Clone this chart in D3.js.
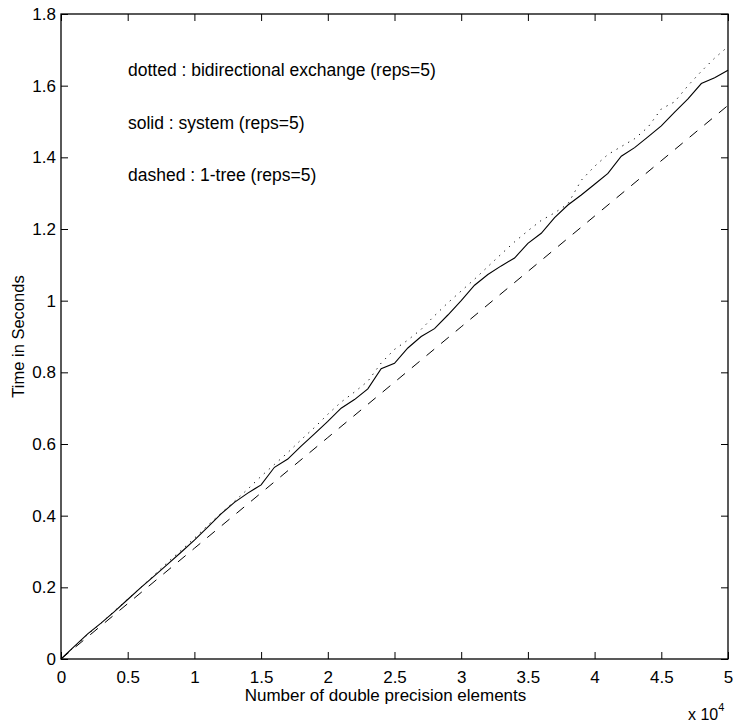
<!DOCTYPE html>
<html>
<head>
<meta charset="utf-8">
<script src="https://cdn.jsdelivr.net/npm/d3@7"></script>
<style>
  html, body { margin: 0; padding: 0; background: #fff; }
  svg { display: block; font-family: "Liberation Sans", Arial, Helvetica, sans-serif; }
</style>
</head>
<body>
<svg id="chart" width="735" height="725"></svg>
<script>
// x in units of 10^4 elements, sampled every 0.1
const xValues = [0,0.1,0.2,0.3,0.4,0.5,0.6,0.7,0.8,0.9,1.0,1.1,1.2,1.3,1.4,1.5,1.6,1.7,1.8,1.9,2.0,2.1,2.2,2.3,2.4,2.5,2.6,2.7,2.8,2.9,3.0,3.1,3.2,3.3,3.4,3.5,3.6,3.7,3.8,3.9,4.0,4.1,4.2,4.3,4.4,4.5,4.6,4.7,4.8,4.9,5.0];
// solid : system
const solidValues = [0,0.035,0.07,0.1,0.132,0.166,0.2,0.232,0.265,0.298,0.332,0.368,0.405,0.437,0.463,0.486,0.535,0.558,0.594,0.628,0.663,0.70,0.724,0.754,0.81,0.825,0.868,0.90,0.922,0.96,1.0,1.043,1.073,1.097,1.119,1.16,1.188,1.232,1.267,1.295,1.325,1.355,1.403,1.427,1.457,1.488,1.526,1.563,1.606,1.622,1.643];
// dotted : bidirectional exchange
const dottedValues = [0,0.034,0.068,0.1,0.134,0.167,0.2,0.235,0.27,0.303,0.337,0.373,0.407,0.44,0.474,0.51,0.543,0.576,0.612,0.646,0.683,0.717,0.745,0.775,0.826,0.864,0.89,0.92,0.958,0.994,1.027,1.06,1.095,1.13,1.164,1.195,1.224,1.245,1.27,1.336,1.375,1.408,1.43,1.452,1.484,1.535,1.555,1.6,1.64,1.677,1.709];
// dashed : 1-tree
const dashedX = [0,1,2,3,4,5];
const dashedValues = [0,0.309,0.618,0.927,1.236,1.545];

const xTicks = [0,0.5,1,1.5,2,2.5,3,3.5,4,4.5,5];
const yTicks = [0,0.2,0.4,0.6,0.8,1,1.2,1.4,1.6,1.8];
const legendLines = ["dotted : bidirectional exchange (reps=5)", "solid : system (reps=5)", "dashed : 1-tree (reps=5)"];

const L = 61, R = 728, T = 14, B = 659;
const svg = d3.select("#chart");
const x = d3.scaleLinear().domain([0,5]).range([L,R]);
const y = d3.scaleLinear().domain([0,1.8]).range([B,T]);

const fmt = d => String(d);
const tickLen = 7;

const gB = svg.append("g").attr("transform",`translate(0,${B})`)
  .call(d3.axisBottom(x).tickValues(xTicks).tickFormat(fmt).tickSizeInner(-tickLen).tickSizeOuter(0).tickPadding(12));
const gL = svg.append("g").attr("transform",`translate(${L},0)`)
  .call(d3.axisLeft(y).tickValues(yTicks).tickFormat(fmt).tickSizeInner(-tickLen).tickSizeOuter(0).tickPadding(12));
const gT = svg.append("g").attr("transform",`translate(0,${T})`)
  .call(d3.axisTop(x).tickValues(xTicks).tickFormat("").tickSizeInner(-tickLen).tickSizeOuter(0));
const gR = svg.append("g").attr("transform",`translate(${R},0)`)
  .call(d3.axisRight(y).tickValues(yTicks).tickFormat("").tickSizeInner(-tickLen).tickSizeOuter(0));

[gB,gL,gT,gR].forEach(g => {
  g.select(".domain").remove();
  g.selectAll(".tick line").attr("stroke","#000").attr("stroke-width",1);
  g.selectAll(".tick text").attr("fill","#000").attr("font-size",17).attr("font-family","Liberation Sans, Arial, sans-serif");
});
gL.selectAll(".tick text").attr("dx", 7);

// box
svg.append("rect").attr("x",L).attr("y",T).attr("width",R-L).attr("height",B-T)
  .attr("fill","none").attr("stroke","#000").attr("stroke-width",1.3);

const line = d3.line().x(d => x(d[0])).y(d => y(d[1]));

svg.append("path").datum(dashedX.map((v,i)=>[v,dashedValues[i]]))
  .attr("d", line).attr("fill","none").attr("stroke","#000").attr("stroke-width",1)
  .attr("stroke-dasharray","10,9");
svg.append("path").datum(xValues.map((v,i)=>[v,dottedValues[i]]))
  .attr("d", line).attr("fill","none").attr("stroke","#000").attr("stroke-width",1)
  .attr("stroke-dasharray","1.2,5.5");
svg.append("path").datum(xValues.map((v,i)=>[v,solidValues[i]]))
  .attr("d", line).attr("fill","none").attr("stroke","#000").attr("stroke-width",1.1);

// legend texts
svg.selectAll(".leg").data(legendLines).enter().append("text")
  .attr("class","leg").attr("x",128).attr("y",(d,i)=>76 + i*52.7)
  .attr("font-size",17.5).attr("fill","#000").text(d=>d);

// axis labels
svg.append("text").attr("x",(L+R)/2 - 9).attr("y",701).attr("text-anchor","middle")
  .attr("font-size",17).attr("fill","#000").text("Number of double precision elements");
svg.append("text").attr("transform",`translate(24,${(T+B)/2}) rotate(-90)`).attr("text-anchor","middle")
  .attr("font-size",16.5).attr("fill","#000").text("Time in Seconds");

// exponent
const ex = svg.append("text").attr("x",688).attr("y",720).attr("font-size",16).attr("fill","#000");
ex.append("tspan").text("x 10");
ex.append("tspan").attr("dy",-9).attr("font-size",11).text("4");
</script>
</body>
</html>
